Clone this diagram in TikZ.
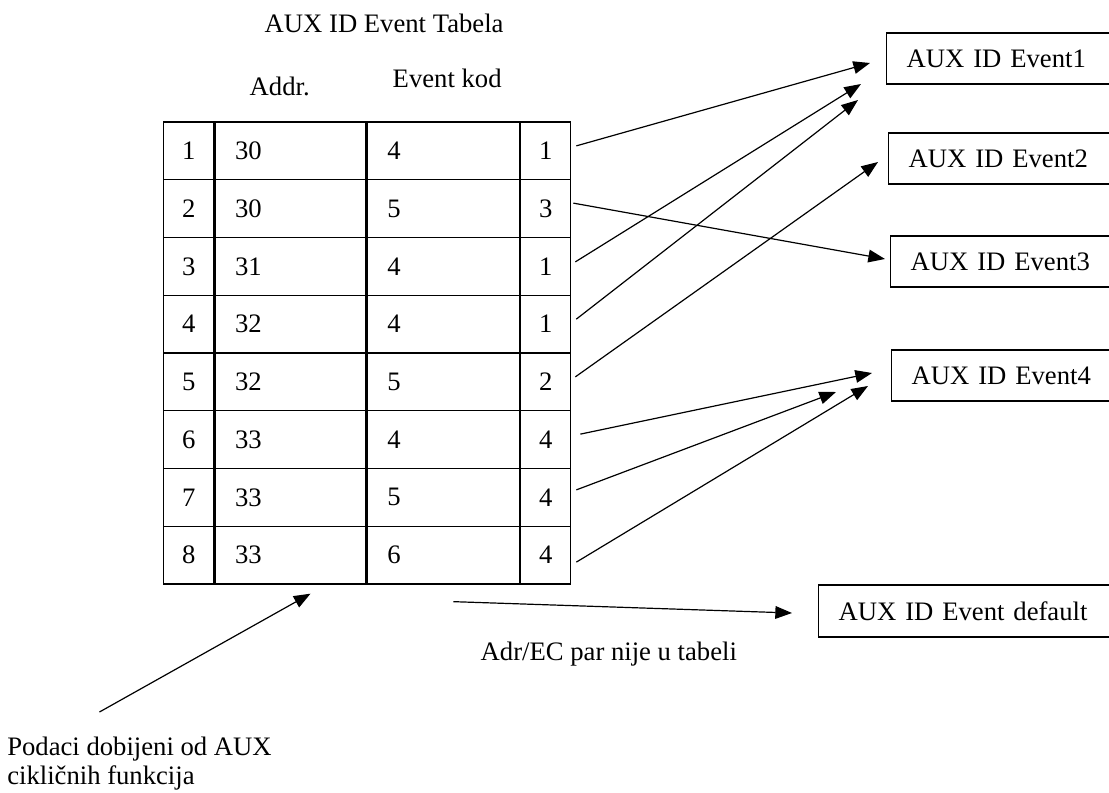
\documentclass[tikz,border=0pt]{standalone}
\usepackage{fontspec}
\setmainfont{Liberation Serif}
\usetikzlibrary{arrows.meta,calc}
\tikzset{
  cell/.style={draw,line width=1pt,minimum height=43.3pt,inner ysep=0pt,anchor=west},
  idcell/.style={cell,minimum width=37.5pt,inner xsep=0pt},
  valcell/.style={cell,inner xsep=15pt,align=left,text width=#1},
  evbox/.style={draw,line width=1pt,minimum height=#1,inner ysep=0pt,inner xsep=15pt,align=left,anchor=west},
  arr/.style={line width=.9pt,-{Triangle[length=12.5pt,width=9.5pt]}},
}
\begin{document}
\begin{tikzpicture}[x=.75pt,y=-.75pt,font=\fontsize{20}{21.5}\selectfont]
    \useasboundingbox (0,0) rectangle (1109,792);
    % table headings
    \node[anchor=base west] (title) at (260,33) {AUX ID Event Tabela};
    \node[anchor=base west] (haddr) at (245,95) {Addr.};
    \node[anchor=base west] (hcode) at (388,88) {Event kod};
    % table rows
    \foreach \n/\ad/\ec/\id [count=\i] in {1/30/4/1,2/30/5/3,3/31/4/1,4/32/4/1,5/32/5/2,6/33/4/4,7/33/5/4,8/33/6/4}{
      \pgfmathsetmacro{\y}{122+(\i-0.5)*57.75}
      \node[idcell] (n\i) at (163,\y) {\n};
      \node[valcell=83.25pt] (a\i) at (n\i.east) {\ad};
      \node[valcell=84pt] (e\i) at (a\i.east) {\ec};
      \node[idcell] (r\i) at (e\i.east) {\id};
    }
    % event boxes
    \node[evbox=38.25pt,text width=150pt] (ev1) at (886,58.5) {AUX ID Event1};
    \node[evbox=38.25pt,text width=150pt] (ev2) at (888,158.5) {AUX ID Event2};
    \node[evbox=38.25pt,text width=150pt] (ev3) at (890,261.5) {AUX ID Event3};
    \node[evbox=38.25pt,text width=150pt] (ev4) at (891,375.5) {AUX ID Event4};
    \node[evbox=39pt,text width=200pt] (evdef) at (818,611) {AUX ID Event default};
    % row -> event
    \foreach \r/\sx/\sy/\t/\dx/\dy in {1/5/-5/ev1/-16/4.5,3/4/-4.5/ev1/-25/25.5,4/5/-5/ev1/-28/41.5,
        5/4/-5/ev2/-10/3.5,2/2/-5.5/ev3/-5/-2.5,6/9/-5.5/ev4/-19/-2.5,7/5/-7.5/ev4/-55/16.5,8/5/7/ev4/-23/10.5}
      \draw[arr] ($(r\r.east)+(\sx,\sy)$) -- ($(\t.west)+(\dx,\dy)$);
    % not found
    \draw[arr] ($(e8.south)+(10,17)$) -- ($(evdef.west)+(-26,2)$);
    \node[anchor=base west] (miss) at (476,660) {Adr/EC par nije u tabeli};
    % input
    \node[anchor=north west,align=left,inner sep=0pt] (aux) at (7,737) {Podaci dobijeni od AUX\\cikličnih funkcija};
    \draw[arr] ($(aux.north)+(-40,-25)$) -- ($(a8.south)+(20,9)$);
  \end{tikzpicture}
\end{document}
